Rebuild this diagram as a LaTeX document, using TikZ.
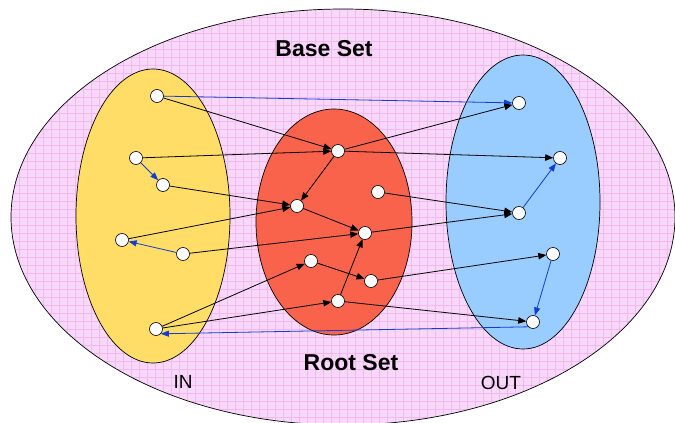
\documentclass[tikz,border=0pt]{standalone}
\usepackage{fontspec}
\setmainfont{Liberation Sans}
\usetikzlibrary{arrows.meta}
\definecolor{pinkfill}{RGB}{248,216,248}
\definecolor{pinkgrid}{RGB}{241,184,241}
\definecolor{infill}{RGB}{255,221,102}
\definecolor{rootfill}{RGB}{249,99,75}
\definecolor{outfill}{RGB}{153,204,255}
\definecolor{linkblue}{RGB}{20,60,210}
\tikzset{
  pg/.style={circle, draw=black, fill=white, line width=0.6pt, minimum size=13pt, inner sep=0pt},
  blk/.style={draw=black, line width=0.8pt, -{Triangle[length=8pt,width=6.5pt]}},
  blu/.style={draw=linkblue, line width=0.8pt, -{Triangle[length=8pt,width=6pt]}},
  setline/.style={draw=black, line width=0.7pt},
  biglabel/.style={font=\bfseries\fontsize{23}{23}\selectfont, anchor=base, inner sep=0pt},
  smalllabel/.style={font=\fontsize{19}{19}\selectfont, anchor=base, inner sep=0pt}
}
\begin{document}
\begin{tikzpicture}[x=1pt,y=-1pt]
\useasboundingbox (0,0) rectangle (675,423);
\fill[white] (0,0) rectangle (675,423);
% base set
\begin{scope}
  \clip (0,0) rectangle (675,423);
  \fill[pinkfill] (343,217) ellipse [x radius=332pt, y radius=208pt];
  \begin{scope}
    \clip (343,217) ellipse [x radius=332pt, y radius=208pt];
    \foreach \gx in {3,11,...,675} \draw[pinkgrid, line width=0.5pt] (\gx,0) -- (\gx,423);
    \foreach \gy in {1,9,...,423} \draw[pinkgrid, line width=0.5pt] (0,\gy) -- (675,\gy);
  \end{scope}
  \draw[setline] (343,217) ellipse [x radius=332pt, y radius=208pt];
\end{scope}
% sets
\draw[setline, fill=infill] (153,216) ellipse [x radius=77pt, y radius=147pt];
\draw[setline, fill=rootfill] (334,222) ellipse [x radius=78pt, y radius=113pt];
\draw[setline, fill=outfill] (523,202) ellipse [x radius=77pt, y radius=147pt];
% labels
\node[biglabel] (base) at (324,56) {Base Set};
\node[biglabel] (root) at (351,370) {Root Set};
\node[smalllabel] (in) at (183,388) {IN};
\node[smalllabel] (out) at (501,389) {OUT};
% pages IN
\node[pg] (a1) at (157,96) {};
\node[pg] (a2) at (136,158) {};
\node[pg] (a3) at (163,185) {};
\node[pg] (a4) at (122,240) {};
\node[pg] (a5) at (183,254) {};
\node[pg] (a6) at (156,329) {};
% pages root
\node[pg] (r1) at (338,151) {};
\node[pg] (r2) at (378,192) {};
\node[pg] (r3) at (297,206) {};
\node[pg] (r4) at (365,233) {};
\node[pg] (r5) at (311,261) {};
\node[pg] (r6) at (371,281) {};
\node[pg] (r7) at (338,301) {};
% pages OUT
\node[pg] (o1) at (519,103) {};
\node[pg] (o2) at (560,158) {};
\node[pg] (o3) at (519,213) {};
\node[pg] (o4) at (553,254) {};
\node[pg] (o5) at (533,322) {};
% links
\draw[blu] (a1) -- (o1);
\draw[blk] (a1) -- (r1);
\draw[blk] (a2) -- (r1);
\draw[blu] (a2) -- (a3);
\draw[blk] (a3) -- (r3);
\draw[blk] (a4) -- (r3);
\draw[blu] (a5) -- (a4);
\draw[blk] (a5) -- (r4);
\draw[blk] (a6) -- (r5);
\draw[blk] (a6) -- (r7);
\draw[blu] (o5.south west) -- (a6.south east);
\draw[blk] (r1) -- (r3);
\draw[blk] (r3) -- (r4);
\draw[blk] (r5) -- (r6);
\draw[blk] (r7) -- (r4);
\draw[blk] (r1) -- (o1);
\draw[blk] (r1) -- (o2);
\draw[blk] (r2) -- (o3);
\draw[blk] (r4) -- (o3);
\draw[blk] (r6) -- (o4);
\draw[blk] (r7) -- (o5);
\draw[blu] (o3) -- (o2);
\draw[blu] (o4) -- (o5);
\end{tikzpicture}
\end{document}
